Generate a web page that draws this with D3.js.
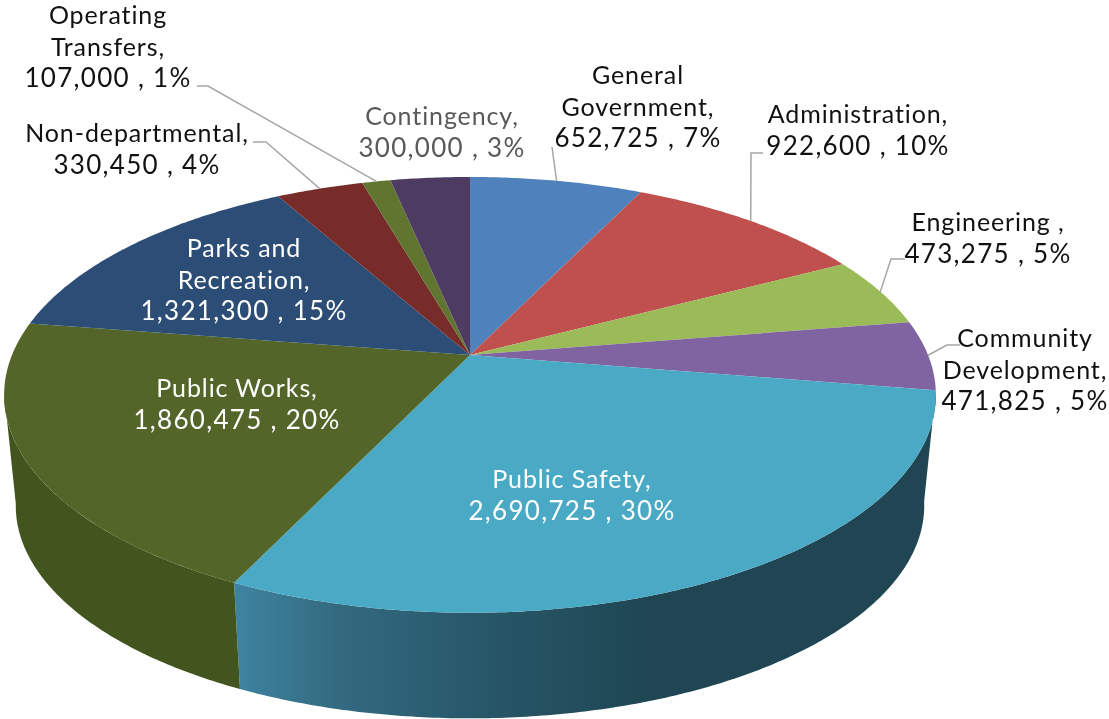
<!DOCTYPE html>
<html>
<head>
<meta charset="utf-8">
<script src="https://cdnjs.cloudflare.com/ajax/libs/d3/7.8.5/d3.min.js"></script>
<style>
  html, body { margin: 0; padding: 0; background: white; }
  svg { display: block; filter: blur(0.45px); }
  text { font-family: "Lato", sans-serif; font-size: 25px; letter-spacing: 0.9px; text-anchor: middle; }
  tspan.amount { font-size: 26px; letter-spacing: 1.3px; }
</style>
</head>
<body>
<script>
// values
var categories = ["General Government", "Administration", "Engineering", "Community Development", "Public Safety",
                  "Public Works", "Parks and Recreation", "Non-departmental", "Operating Transfers", "Contingency"];
var values = [652725, 922600, 473275, 471825, 2690725, 1860475, 1321300, 330450, 107000, 300000];
var percents = [7, 10, 5, 5, 30, 20, 15, 4, 1, 3];
var nameLines = [["General", "Government,"], ["Administration,"], ["Engineering ,"], ["Community", "Development,"],
                 ["Public Safety,"], ["Public Works,"], ["Parks and", "Recreation,"], ["Non-departmental,"],
                 ["Operating", "Transfers,"], ["Contingency,"]];
var sliceColors = ["#4f81bd", "#c0504d", "#9bbb59", "#8064a2", "#4aa9c5", "#536528", "#2c4d75", "#772c2a", "#5f7530", "#4d3b62"];

// label placement: centre x, first baseline, text colour
var labelX = [638, 858, 988, 1025, 572, 237, 244, 137, 108, 442];
var labelY = [84, 123, 231, 347, 488, 397, 257, 142, 24, 125];
var labelColor = ["#111", "#111", "#111", "#111", "#fff", "#fff", "#fff", "#111", "#111", "#595959"];
var lineGap = 31.5;

// leader lines: start of the line and its elbow, the end comes from the slice
var leaders = {
  0: [[552, 147]],
  1: [[763, 153], [751, 153]],
  2: [[905, 259], [891, 259]],
  3: [[960, 345], [947, 345]],
  7: [[253, 142], [266, 142]],
  8: [[197, 86], [208, 86]]
};

var w = 1109, h = 719;

// perspective of the pie top, apex of the slices at cx, cy
var cx = 470, cy = 355;
var a = 458, b = 210.6, k = 0.183;
var depth = 112, shrink = 0.975;

function project(angle, lower) {
  var u = Math.sin(angle), v = -Math.cos(angle);
  var d = 1 - k * v;
  var x = a * u / d, y = b * v / d;
  if (lower) {
    return [cx + x * shrink, cy + depth + y * shrink];
  }
  return [cx + x, cy + y];
}

function arcPoints(start, end, lower) {
  var n = Math.max(2, Math.ceil((end - start) / 0.01));
  var angle = d3.scaleLinear().domain([0, n]).range([start, end]);
  return d3.range(n + 1).map(function(i) { return project(angle(i), lower); });
}

var svg = d3.select("body").append("svg").attr("width", w).attr("height", h);

var defs = svg.append("defs");
var grad = defs.append("linearGradient")
  .attr("id", "safetySide")
  .attr("gradientUnits", "userSpaceOnUse")
  .attr("x1", 234).attr("x2", 650).attr("y1", 0).attr("y2", 0);
grad.append("stop").attr("offset", "0").attr("stop-color", "#3f84a0");
grad.append("stop").attr("offset", "0.25").attr("stop-color", "#336a80");
grad.append("stop").attr("offset", "0.55").attr("stop-color", "#29596c");
grad.append("stop").attr("offset", "1").attr("stop-color", "#1f4652");

var pie = d3.pie().sort(null).value(function(d) { return d; });
var slices = pie(values);
var line = d3.line();

// sides of the slices that face the viewer
var sideFill = { 4: "url(#safetySide)", 5: "#43551f" };
var lastVisible = 260 * Math.PI / 180;

svg.append("g").selectAll("path")
  .data(slices.filter(function(d) { return sideFill[d.index]; }))
  .enter().append("path")
    .attr("d", function(d) {
      var end = Math.min(d.endAngle, lastVisible);
      var top = arcPoints(d.startAngle, end, false);
      var bottom = arcPoints(d.startAngle, end, true).reverse();
      return line(top.concat(bottom)) + "Z";
    })
    .style("fill", function(d) { return sideFill[d.index]; });

// top of the pie
svg.append("g").selectAll("path")
  .data(slices)
  .enter().append("path")
    .attr("d", function(d) {
      return line([[cx, cy]].concat(arcPoints(d.startAngle, d.endAngle, false))) + "Z";
    })
    .style("fill", function(d) { return sliceColors[d.index]; });

// leader lines
svg.append("g").selectAll("path")
  .data(slices.filter(function(d) { return leaders[d.index]; }))
  .enter().append("path")
    .attr("d", function(d) {
      return line(leaders[d.index].concat([project((d.startAngle + d.endAngle) / 2, false)]));
    })
    .style("fill", "none")
    .style("stroke", "#a6a6a6")
    .style("stroke-width", 1.5);

// labels
var format = d3.format(",");
var labels = svg.append("g").selectAll("text")
  .data(categories)
  .enter().append("text")
    .attr("x", function(d, i) { return labelX[i]; })
    .attr("y", function(d, i) { return labelY[i]; })
    .style("fill", function(d, i) { return labelColor[i]; });

labels.each(function(d, i) {
  var names = nameLines[i];
  var rows = names.concat([format(values[i]) + " , " + percents[i] + "%"]);
  d3.select(this).selectAll("tspan")
    .data(rows)
    .enter().append("tspan")
      .attr("class", function(r, j) { return j == names.length ? "amount" : "name"; })
      .attr("x", labelX[i])
      .attr("y", function(r, j) { return labelY[i] + j * lineGap; })
      .text(function(r) { return r; });
});
</script>
</body>
</html>
